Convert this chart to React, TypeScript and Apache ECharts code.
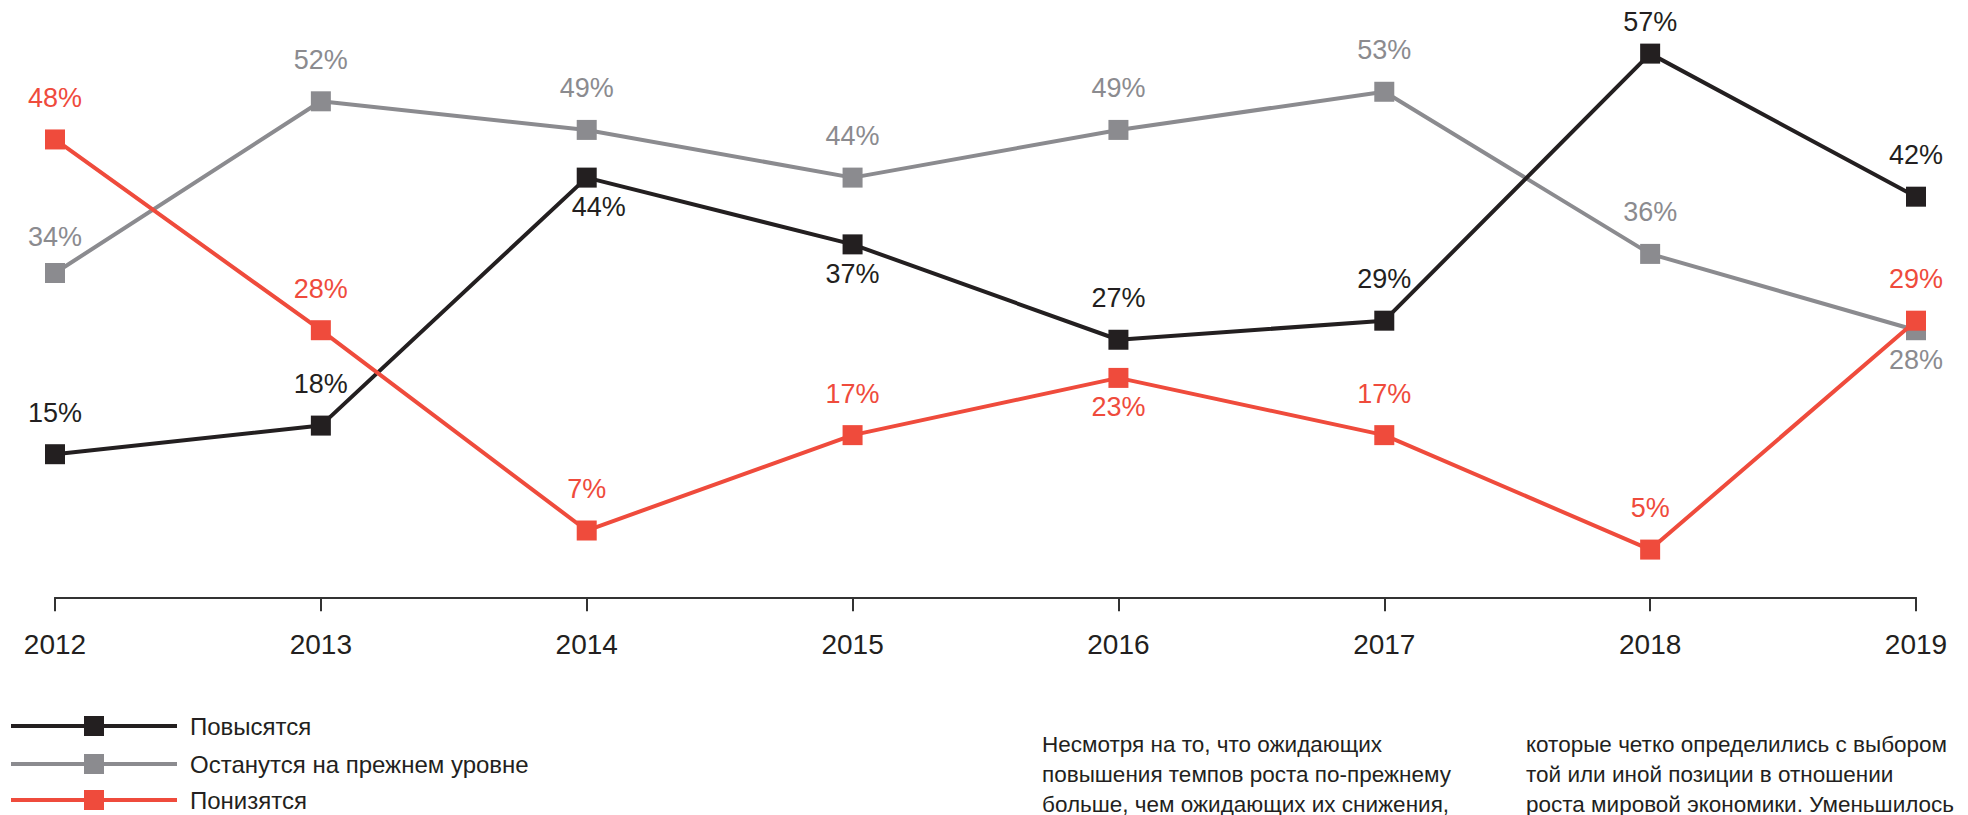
import React, { useEffect, useRef } from "react";
import * as echarts from "echarts";

const years = ["2012", "2013", "2014", "2015", "2016", "2017", "2018", "2019"];
const seriesNames = ["Повысятся", "Останутся на прежнем уровне", "Понизятся"];
const riseValues = [15, 18, 44, 37, 27, 29, 57, 42];
const sameValues = [34, 52, 49, 44, 49, 53, 36, 28];
const fallValues = [48, 28, 7, 17, 23, 17, 5, 29];

const noteColumn1 = [
  "Несмотря на то, что ожидающих",
  "повышения темпов роста по-прежнему",
  "больше, чем ожидающих их снижения,",
];
const noteColumn2 = [
  "которые четко определились с выбором",
  "той или иной позиции в отношении",
  "роста мировой экономики. Уменьшилось",
];

// indexes whose value label sits below the marker
const riseBelow = [2, 3];
const sameBelow = [7];
const fallBelow = [4];

const BLACK = "#231f20";
const GREY = "#8b8b8f";
const RED = "#ef4b3c";
const FONT = "'Liberation Sans', Arial, Helvetica, sans-serif";

function buildData(values: number[], below: number[], tweak?: (i: number) => any) {
  return values.map((v, i) => {
    let label: any = below.includes(i)
      ? { position: "bottom", distance: 6 }
      : { position: "top", distance: 18 };
    if (tweak) label = { ...label, ...(tweak(i) || {}) };
    return { value: v, label };
  });
}

export default function App() {
  const ref = useRef<HTMLDivElement>(null);

  useEffect(() => {
    if (!ref.current) return;
    const chart = echarts.init(ref.current, undefined, { renderer: "svg" });

    const mkSeries = (name: string, data: any[], color: string, z: number) => ({
      name,
      type: "line",
      data,
      z,
      symbol: "rect",
      symbolSize: 20,
      lineStyle: { color, width: 4 },
      itemStyle: { color },
      label: {
        show: true,
        formatter: "{c}%",
        color,
        fontSize: 27,
        fontFamily: FONT,
      },
      emphasis: { disabled: true },
      silent: true,
    });

    const legendRowTops = [714, 752, 788];
    const legendColors = [BLACK, GREY, RED];
    const legends = seriesNames.map((name, i) => ({
      show: true,
      orient: "vertical",
      left: 9,
      top: legendRowTops[i],
      padding: 0,
      itemWidth: 166,
      itemHeight: 25,
      data: [name],
      selectedMode: false,
      lineStyle: { width: 4, color: legendColors[i] },
      textStyle: { fontSize: 24, color: BLACK, fontFamily: FONT, padding: [0, 0, 0, 8] },
    }));

    const option: any = {
      animation: false,
      backgroundColor: "#ffffff",
      textStyle: { fontFamily: FONT },
      grid: { left: 55, right: 52, top: 25, bottom: 212, containLabel: false },
      xAxis: {
        type: "category",
        data: years,
        boundaryGap: false,
        axisLine: { show: true, lineStyle: { color: "#333333", width: 2 } },
        axisTick: { show: true, length: 14, alignWithLabel: true, lineStyle: { color: "#333333", width: 2 } },
        axisLabel: { fontSize: 28, color: BLACK, margin: 27, fontFamily: FONT },
        splitLine: { show: false },
      },
      yAxis: {
        type: "value",
        min: -0.6,
        max: 60,
        show: false,
      },
      legend: legends,
      graphic: [
        {
          type: "text",
          left: 1042,
          top: 729,
          style: {
            text: noteColumn1.join("\n"),
            fontSize: 22.5,
            lineHeight: 30,
            fill: BLACK,
            fontFamily: FONT,
          },
        },
        {
          type: "text",
          left: 1526,
          top: 729,
          style: {
            text: noteColumn2.join("\n"),
            fontSize: 22.5,
            lineHeight: 30,
            fill: BLACK,
            fontFamily: FONT,
          },
        },
      ],
      series: [
        mkSeries(seriesNames[1], buildData(sameValues, sameBelow, (i) => (i === 0 ? { distance: 12 } : null)), GREY, 2),
        mkSeries(
          seriesNames[0],
          buildData(riseValues, riseBelow, (i) =>
            i === 2 ? { offset: [12, 0] } : i === 6 ? { distance: 8 } : null
          ),
          BLACK,
          3
        ),
        mkSeries(seriesNames[2], buildData(fallValues, fallBelow), RED, 4),
      ],
    };

    chart.setOption(option);
    return () => chart.dispose();
  }, []);

  return (
    <div
      ref={ref}
      style={{ position: "fixed", left: 0, top: 0, width: 1968, height: 815, background: "#fff" }}
    />
  );
}
